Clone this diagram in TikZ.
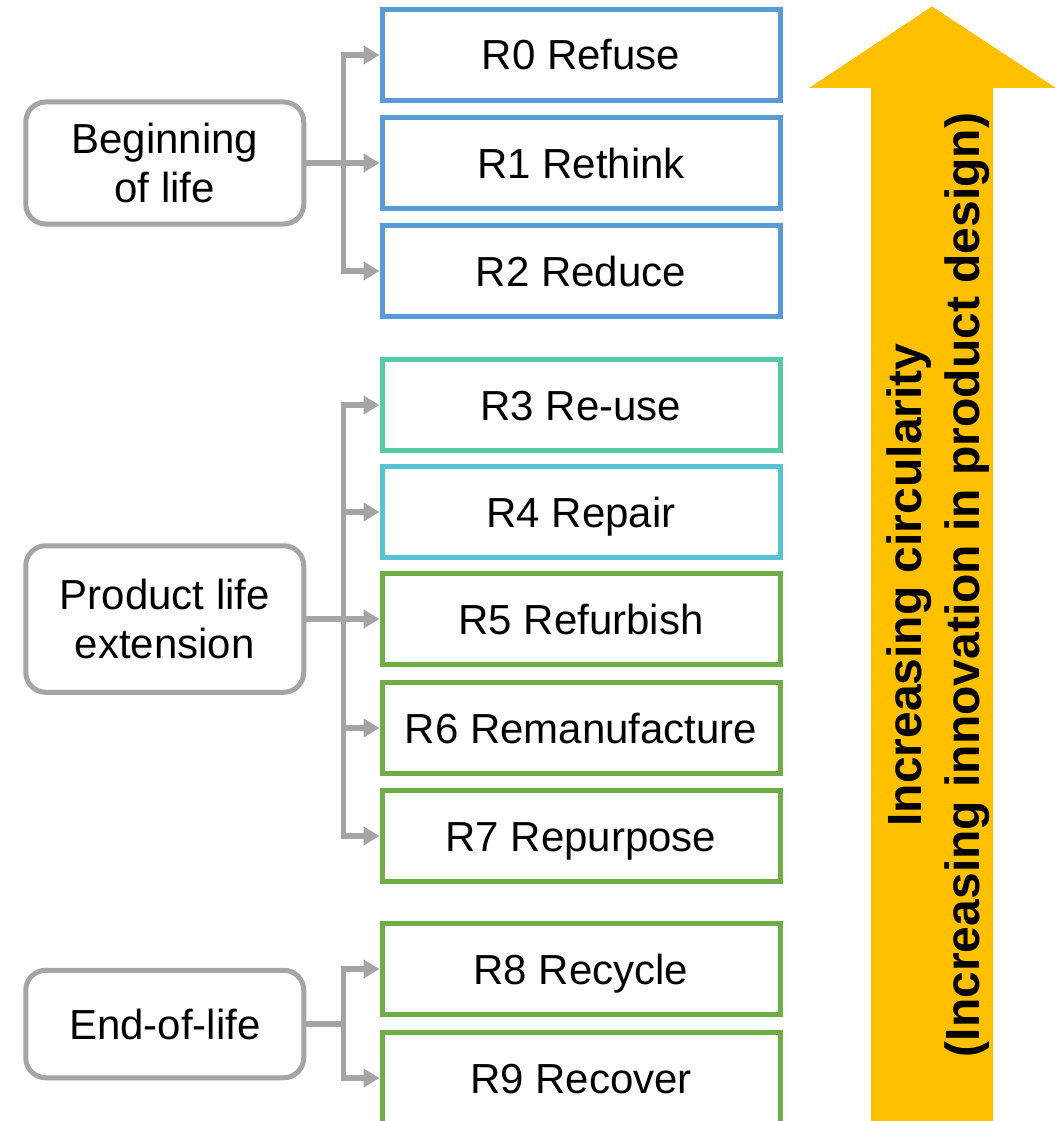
\documentclass[tikz,border=0pt]{standalone}
\usepackage{fontspec}
\setmainfont{Liberation Sans}
\usetikzlibrary{arrows.meta}
\definecolor{rblue}{HTML}{5B9BD5}
\definecolor{rteal}{HTML}{56C9A6}
\definecolor{rcyan}{HTML}{57C2D1}
\definecolor{rgreen}{HTML}{70AD47}
\definecolor{linkgray}{HTML}{A5A5A5}
\definecolor{arrowgold}{HTML}{FFC000}

\begin{document}
\begin{tikzpicture}[x=1pt,y=-1pt,
  rbox/.style={draw=#1, line width=5pt, fill=white, minimum width=398pt,
    minimum height=91pt, inner sep=0pt, text height=30pt, text depth=0pt,
    font=\fontsize{42}{49}\selectfont},
  phase/.style={draw=linkgray, line width=5pt, rounded corners=20pt,
    minimum width=278pt, minimum height=#1, align=center, inner sep=0pt,
    font=\fontsize{42}{49}\selectfont},
  conn/.style={draw=linkgray, line width=5.5pt, line join=miter},
  gtip/.tip={Triangle[length=16pt,width=18pt]},
]
% page frame
\fill[white] (0,0) rectangle (1058,1121);
\useasboundingbox (0,0) rectangle (1058,1121);

% the ten R-strategies
\node[rbox=rblue]  (R0) at (581,55)   {R0 Refuse};
\node[rbox=rblue]  (R1) at (581,163)  {R1 Rethink};
\node[rbox=rblue]  (R2) at (581,271)  {R2 Reduce};
\node[rbox=rteal]  (R3) at (581,405)  {R3 Re-use};
\node[rbox=rcyan]  (R4) at (581,512)  {R4 Repair};
\node[rbox=rgreen] (R5) at (581,619)  {R5 Refurbish};
\node[rbox=rgreen] (R6) at (581,728)  {R6 Remanufacture};
\node[rbox=rgreen] (R7) at (581,836)  {R7 Repurpose};
\node[rbox=rgreen] (R8) at (581,969)  {R8 Recycle};
\node[rbox=rgreen] (R9) at (581,1078) {R9 Recover};

% life-cycle phases
\node[phase=122pt]   (bol) at (164.75,163)  {Beginning\\of life};
\node[phase=146.5pt] (ple) at (164.75,619)  {Product life\\extension};
\node[phase=107.5pt] (eol) at (164.75,1024) {End-of-life};

% branch points
\coordinate (j1) at (343.5,163);
\coordinate (j2) at (343.5,619);
\coordinate (j3) at (343.5,1024);

% beginning of life
\draw[conn,gtip-gtip] (R0.west) -| (j1) |- (R2.west);
\draw[conn,-gtip] (bol.east) -- (R1.west);

% product life extension
\draw[conn,gtip-gtip] (R3.west) -| (j2) |- (R7.west);
\draw[conn,-gtip] (j2 |- R4.west) -- (R4.west);
\draw[conn,-gtip] (ple.east) -- (R5.west);
\draw[conn,-gtip] (j2 |- R6.west) -- (R6.west);

% end of life
\draw[conn,gtip-gtip] (R8.west) -| (j3) |- (R9.west);
\draw[conn] (eol.east) -- (j3);

% circularity arrow
\fill[arrowgold] (871,1130) -- (871,88) -- (809,88) -- (932,6.5)
  -- (1056,88) -- (993,88) -- (993,1130) -- cycle;
\node[rotate=90, align=center, inner sep=0pt,
  font=\bfseries\fontsize{48}{58}\selectfont] (circ) at (938.5,585)
  {Increasing circularity\\(Increasing innovation in product design)};
\end{tikzpicture}
\end{document}
